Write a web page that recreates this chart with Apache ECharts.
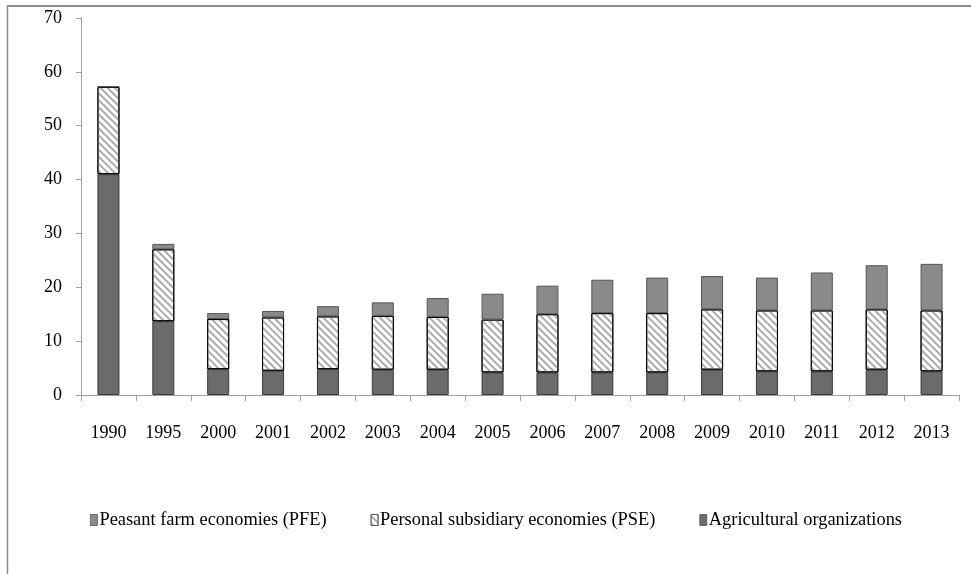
<!DOCTYPE html>
<html>
<head>
<meta charset="utf-8">
<script src="https://cdn.jsdelivr.net/npm/echarts@6/dist/echarts.min.js"></script>
<style>html,body{margin:0;padding:0;background:#fff}#c{width:971px;height:574px}</style>
</head>
<body>
<div id="c"></div>
<script>
var categories = ['1990','1995','2000','2001','2002','2003','2004','2005','2006','2007','2008','2009','2010','2011','2012','2013'];
var agriculturalOrganizations = [41.0, 13.7, 4.8, 4.5, 4.8, 4.7, 4.7, 4.2, 4.2, 4.2, 4.2, 4.7, 4.4, 4.4, 4.7, 4.4];
var personalSubsidiary = [16.2, 13.35, 9.3, 9.9, 9.8, 10.0, 9.8, 9.8, 10.8, 11.0, 11.0, 11.2, 11.3, 11.3, 11.2, 11.3];
var peasantFarm = [0.1, 1.0, 1.1, 1.2, 1.9, 2.5, 3.5, 4.8, 5.3, 6.2, 6.6, 6.2, 6.1, 7.05, 8.2, 8.65];
var yTicks = [0, 10, 20, 30, 40, 50, 60, 70];
var names = ['Peasant farm economies (PFE)', 'Personal subsidiary economies (PSE)', 'Agricultural organizations'];

var FONT = 'Liberation Serif';
var chart = echarts.init(document.getElementById('c'), null, {renderer: 'canvas'});
chart.setOption({
  backgroundColor: '#fff',
  animation: false,
  graphic: [
    {type: 'line', shape: {x1: 7, y1: 6, x2: 971, y2: 6}, style: {stroke: '#8c8c8c', lineWidth: 2}},
    {type: 'line', shape: {x1: 7.5, y1: 5, x2: 7.5, y2: 574}, style: {stroke: '#8c8c8c', lineWidth: 1.5}}
  ],
  grid: {left: 81, right: 12, top: 18, bottom: 179, containLabel: false},
  legend: {
    data: names,
    left: 85,
    top: 506,
    itemWidth: 7,
    itemHeight: 11,
    itemGap: 44,
    icon: 'rect',
    itemStyle: {borderWidth: 0.8, borderColor: '#555555'},
    textStyle: {fontFamily: FONT, fontSize: 18.4, color: '#000', padding: [0, 0, 0, -3]}
  },
  xAxis: {
    type: 'category',
    data: categories,
    axisLine: {lineStyle: {color: '#a0a0a0', width: 1}},
    axisTick: {show: true, alignWithLabel: false, length: 6, lineStyle: {color: '#a0a0a0'}},
    axisLabel: {fontFamily: FONT, fontSize: 18, color: '#000', margin: 29, interval: 0}
  },
  yAxis: {
    type: 'value',
    min: yTicks[0],
    max: yTicks[yTicks.length - 1],
    interval: 10,
    splitLine: {show: false},
    axisLine: {show: true, lineStyle: {color: '#a0a0a0', width: 1}},
    axisTick: {show: true, length: 5, lineStyle: {color: '#a0a0a0'}},
    axisLabel: {fontFamily: FONT, fontSize: 18, color: '#000', margin: 19}
  },
  series: [
    {
      name: names[2], type: 'bar', stack: 'total', barWidth: 22, data: agriculturalOrganizations,
      itemStyle: {color: '#6b6b6b', borderColor: '#3a3a3a', borderWidth: 1}
    },
    {
      name: names[1], type: 'bar', stack: 'total', barWidth: 22, data: personalSubsidiary,
      itemStyle: {
        color: '#ffffff', borderColor: '#000', borderWidth: 1,
        decal: {symbol: 'rect', symbolSize: 1, dashArrayX: [[1, 0]], dashArrayY: [2, 2.8], rotation: Math.PI / 4, color: '#ababab'}
      }
    },
    {
      name: names[0], type: 'bar', stack: 'total', barWidth: 22, data: peasantFarm,
      itemStyle: {color: '#8a8a8a', borderColor: '#555555', borderWidth: 1}
    }
  ]
});
</script>
</body>
</html>
